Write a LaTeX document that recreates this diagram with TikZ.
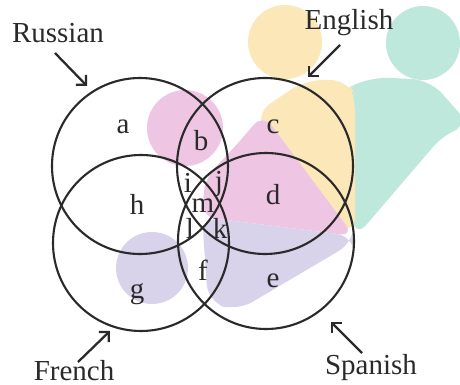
\documentclass[tikz,border=0pt]{standalone}
\usepackage{fontspec}
\setmainfont{Liberation Serif}
\usepackage{tikz}
\usetikzlibrary{arrows.meta}

\definecolor{wmyellow}{HTML}{FBE7B8}
\definecolor{wmteal}{HTML}{BFE8DD}
\definecolor{wmpink}{HTML}{EEC6E3}
\definecolor{wmlilac}{HTML}{D8D2EA}
\definecolor{inkgray}{HTML}{2A2A2A}

\begin{document}
\begin{tikzpicture}[x=0.02cm,y=-0.02cm,>={Straight Barb[length=4pt,width=8pt]},
        venn/.style={line width=1.2pt,draw=inkgray},
        region/.style={font=\fontsize{16.5}{20}\selectfont,text=inkgray,inner sep=0pt},
        lang/.style={font=\fontsize{16.5}{20}\selectfont,text=inkgray,anchor=base,inner sep=1pt},
        pointer/.style={->,line width=1.3pt,draw=inkgray}]
        \useasboundingbox (0,0) rectangle (460,385);
        % Watermark figures
        \fill[wmyellow] (285,42) circle (37);
        \fill[wmteal] (423,43) circle (37);
        \fill[wmteal,rounded corners=10] (338,92) -- (372,77) -- (430,80) -- (470,125) -- (445,133) -- (355,238) -- (345,150) -- cycle;
        \fill[wmyellow,rounded corners=10] (255,114) -- (305,80) -- (348,80) -- (355,95) -- (355,235) -- (300,200) -- cycle;
        \fill[wmpink] (185,128) circle (38);
        \fill[white] (190,175) .. controls (205,165) and (222,150) .. (232,140) -- (236,146) .. controls (226,158) and (210,172) .. (196,180) -- cycle;
        \fill[wmpink,rounded corners=8] (232,150) -- (263,114) -- (354,236) -- (202,217) -- (205,178) -- cycle;
        \fill[wmlilac] (152,268) circle (36);
        \fill[wmlilac,rounded corners=10] (202,217) -- (354,236) -- (354,242) -- (237,311) -- (208,302) -- cycle;
        \fill[white] (196,245) .. controls (203,262) and (205,280) .. (203,298) -- (199,298) .. controls (200,280) and (198,262) .. (192,246) -- cycle;
        % Circles
        \draw[venn] (140,166) circle (88);
        \draw[venn] (265,166) circle (88);
        \draw[venn] (141,243) circle (88);
        \draw[venn] (266,241) circle (88);
        % Region labels
        \node[region] (a) at (123,127) {a};
        \node[region] (b) at (201,141) {b};
        \node[region] (c) at (273,127) {c};
        \node[region] (h) at (137,204) {h};
        \node[region] (d) at (273,195) {d};
        \node[region] (i) at (188,183) {i};
        \node[region] (j) at (219,184) {j};
        \node[region] (m) at (203,206) {m};
        \node[region] (l) at (190,228) {l};
        \node[region] (k) at (220,228) {k};
        \node[region] (f) at (203,270) {f};
        \node[region] (e) at (273,281) {e};
        \node[region] (g) at (137,294) {g};
        % Language names and pointers
        \node[lang] (russian) at (58,43) {Russian};
        \node[lang] (english) at (349,30) {English};
        \node[lang] (french) at (74,380) {French};
        \node[lang] (spanish) at (371,374) {Spanish};
        \coordinate (russianTip) at (87,86);
        \coordinate (englishTip) at (308,77);
        \coordinate (frenchTip) at (110,331);
        \coordinate (spanishTip) at (331,322);
        \draw[pointer] ([shift={(-3,10)}]russian.base) -- (russianTip);
        \draw[pointer] ([shift={(-9,15)}]english.base) -- (englishTip);
        \draw[pointer] ([shift={(4,-18)}]french.base) -- (frenchTip);
        \draw[pointer] ([shift={(-9,-21)}]spanish.base) -- (spanishTip);
    \end{tikzpicture}
\end{document}
